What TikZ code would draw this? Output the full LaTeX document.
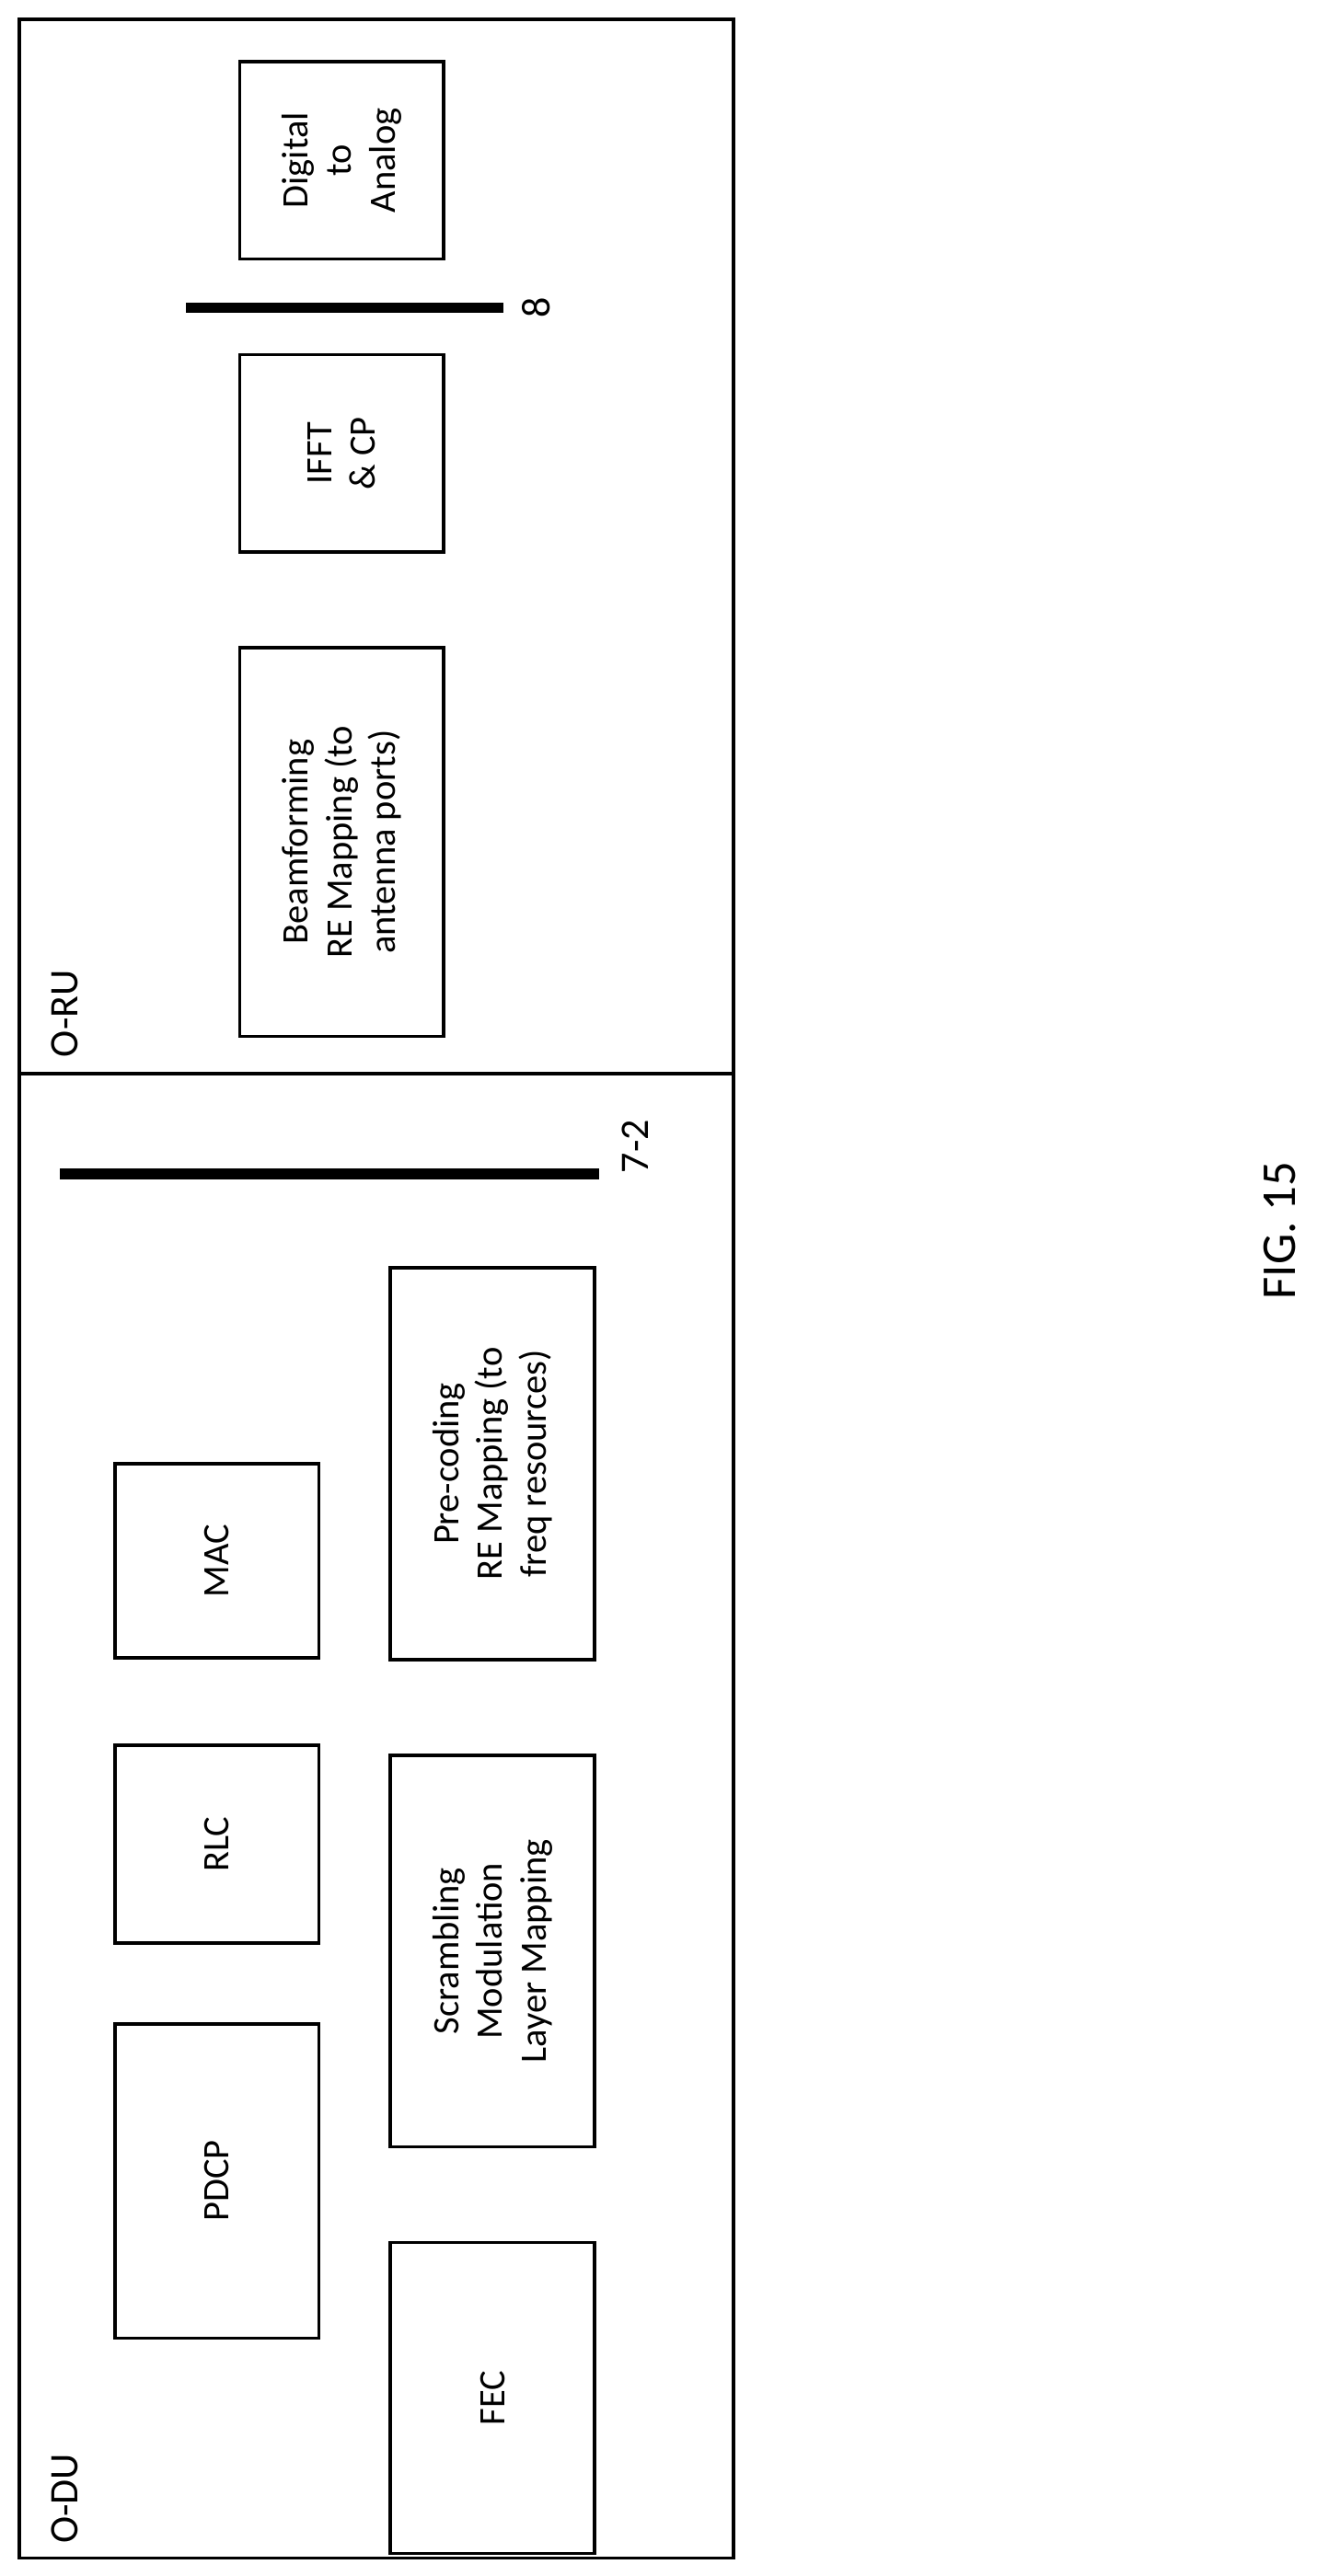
\documentclass[tikz,border=0pt]{standalone}
\usepackage{fontspec}
\setmainfont{Carlito}
\begin{document}
\begin{tikzpicture}[x=0.5pt,y=-0.5pt,
 blk/.style={draw,line width=1pt,rotate=90,align=center,font=\fontsize{11.5}{13.5}\selectfont,inner sep=1pt},
 lbl/.style={rotate=90,font=\fontsize{12.5}{14}\selectfont},
 bar/.style={line width=3.2pt}]
\useasboundingbox (0,0) rectangle (827,1591);
\draw[line width=1pt] (12,12) rectangle (453,1580);
\draw[line width=1pt] (12,663) -- (453,663);
\node[lbl,anchor=west] (odu) at (40,1578) {O-DU};
\node[lbl,anchor=west] (oru) at (40,660) {O-RU};
\node[blk,minimum width=96pt,minimum height=63pt] (fec) at (304,1481) {FEC};
\node[blk,minimum width=97pt,minimum height=63pt] (pdcp) at (134,1347) {PDCP};
\node[blk,minimum width=61pt,minimum height=63pt] (rlc) at (134,1139) {RLC};
\node[blk,minimum width=60pt,minimum height=63pt] (mac) at (134,964) {MAC};
\node[blk,minimum width=121pt,minimum height=63pt] (scr) at (304,1205) {Scrambling\\Modulation\\Layer Mapping};
\node[blk,minimum width=121pt,minimum height=63pt] (pre) at (304,904) {Pre-coding\\RE Mapping (to\\freq resources)};
\coordinate (b1a) at (37,725); \coordinate (b1b) at (370,725);
\draw[bar] (b1a) -- (b1b);
\node[lbl] (l72) at (392,708) {7-2};
\node[blk,minimum width=120pt,minimum height=63pt] (bf) at (211,520) {Beamforming\\RE Mapping (to\\antenna ports)};
\node[blk,minimum width=61pt,minimum height=63pt] (ifft) at (211,280) {IFFT\\\& CP};
\coordinate (b2a) at (115,190); \coordinate (b2b) at (311,190);
\draw[bar] (b2a) -- (b2b);
\node[lbl] (l8) at (331,190) {8};
\node[blk,minimum width=61pt,minimum height=63pt] (dac) at (211,99) {Digital\\to\\Analog};
\node[rotate=90,font=\fontsize{15}{17}\selectfont] (fig) at (790,760) {FIG. 15};
\end{tikzpicture}
\end{document}
